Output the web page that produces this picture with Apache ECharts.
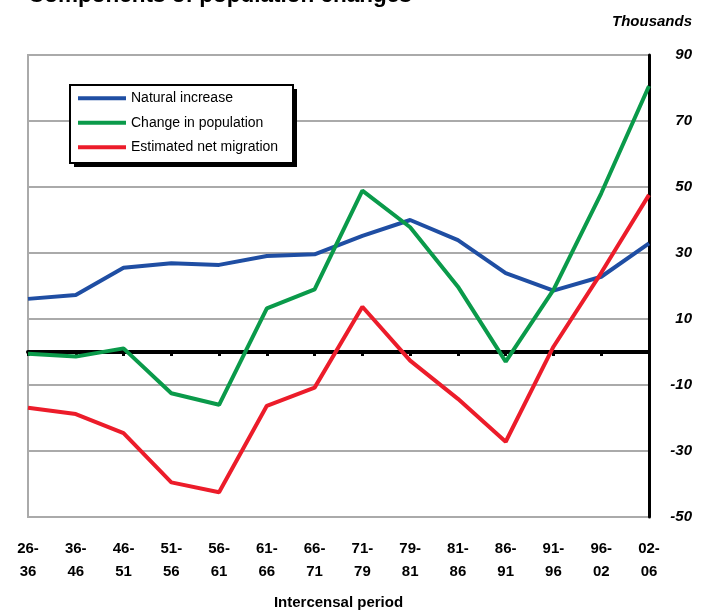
<!DOCTYPE html>
<html>
<head>
<meta charset="utf-8">
<script src="https://cdn.jsdelivr.net/npm/echarts@6/dist/echarts.min.js"></script>
<style>
  html, body { margin: 0; padding: 0; background: #fff; }
  #mainChart { width: 703px; height: 612px; }
</style>
</head>
<body>
<div id="mainChart"></div>
<script>
var periods = ["26-\n36", "36-\n46", "46-\n51", "51-\n56", "56-\n61", "61-\n66", "66-\n71",
    "71-\n79", "79-\n81", "81-\n86", "86-\n91", "91-\n96", "96-\n02", "02-\n06"];

// thousands
var naturalIncrease = [16.1, 17.3, 25.5, 26.9, 26.4, 29.1, 29.6, 35.2, 40, 33.9, 23.9, 18.6, 22.8, 32.9];
var popChange = [-0.5, -1.4, 1.1, -12.5, -16, 13.2, 19, 48.9, 37.8, 19.8, -2.9, 18.8, 48.1, 80.6];
var netMigration = [-16.9, -18.8, -24.6, -39.5, -42.5, -16.3, -10.8, 13.7, -2.6, -14.2, -27.2, 1.6, 24, 47.6];

var seriesNames = ["Natural increase", "Change in population", "Estimated net migration"];
var colors = ["#1f4ea3", "#0a9a4a", "#ec1c2a"];

var chart = echarts.init(document.getElementById("mainChart"));

function lineSeries(name, data, color) {
    return {
        name: name,
        type: "line",
        data: data,
        symbol: "none",
        lineStyle: { color: color, width: 4 },
        itemStyle: { color: color }
    };
}

// legend frame with a hard drop shadow
var box = { x: 70, y: 85, w: 223, h: 78 };

chart.setOption({
    animation: false,
    textStyle: { fontFamily: "Liberation Sans, Arial, sans-serif" },
    title: [{
        text: "Components of population changes",
        left: 23,
        top: -21,
        textStyle: { fontSize: 22.5, fontWeight: "bold", color: "#000" }
    }, {
        text: "Thousands",
        right: 6,
        top: 9,
        textStyle: { fontSize: 15, fontWeight: "bold", fontStyle: "italic", color: "#000" }
    }],
    graphic: [{
        type: "rect",
        z: 3,
        shape: { x: box.x + 4, y: box.y + 4, width: box.w, height: box.h },
        style: { fill: "#000" }
    }, {
        type: "rect",
        z: 3,
        shape: { x: box.x, y: box.y, width: box.w, height: box.h },
        style: { fill: "#fff", stroke: "#000", lineWidth: 2 }
    }],
    legend: {
        orient: "vertical",
        left: 70,
        top: 85,
        padding: [6, 8, 6, 8],
        itemGap: 10,
        itemWidth: 48,
        itemHeight: 4,
        icon: "rect",
        textStyle: { fontSize: 14, color: "#000", lineHeight: 14.5 },
        data: seriesNames
    },
    grid: {
        left: 28,
        right: 54,
        top: 55,
        bottom: 95,
        outerBoundsMode: "none",
        containLabel: false,
        show: true,
        borderColor: "#aaa",
        borderWidth: 2
    },
    xAxis: [{
        type: "category",
        data: periods,
        boundaryGap: false,
        axisLine: { onZero: true, lineStyle: { color: "#000", width: 4 } },
        axisTick: { show: true, inside: false, length: 4, lineStyle: { color: "#000", width: 3 } },
        axisLabel: { show: false }
    }, {
        type: "category",
        data: periods,
        boundaryGap: false,
        position: "bottom",
        axisLine: { show: false, onZero: false },
        axisTick: { show: false },
        axisLabel: {
            interval: 0,
            margin: 20,
            fontSize: 15,
            fontWeight: "bold",
            color: "#000",
            lineHeight: 23
        },
        name: "Intercensal period",
        nameLocation: "middle",
        nameGap: 78,
        nameTextStyle: { fontSize: 15, fontWeight: "bold", color: "#000" }
    }],
    yAxis: {
        type: "value",
        position: "right",
        min: -50,
        max: 90,
        interval: 20,
        axisLine: { show: true, lineStyle: { color: "#000", width: 3 } },
        axisTick: { show: false },
        axisLabel: {
            align: "right",
            margin: 43,
            fontSize: 15,
            fontWeight: "bold",
            fontStyle: "italic",
            color: "#000"
        },
        splitLine: { lineStyle: { color: "#aaa", width: 2 } }
    },
    series: [
        lineSeries(seriesNames[0], naturalIncrease, colors[0]),
        lineSeries(seriesNames[1], popChange, colors[1]),
        lineSeries(seriesNames[2], netMigration, colors[2])
    ]
});
</script>
</body>
</html>
